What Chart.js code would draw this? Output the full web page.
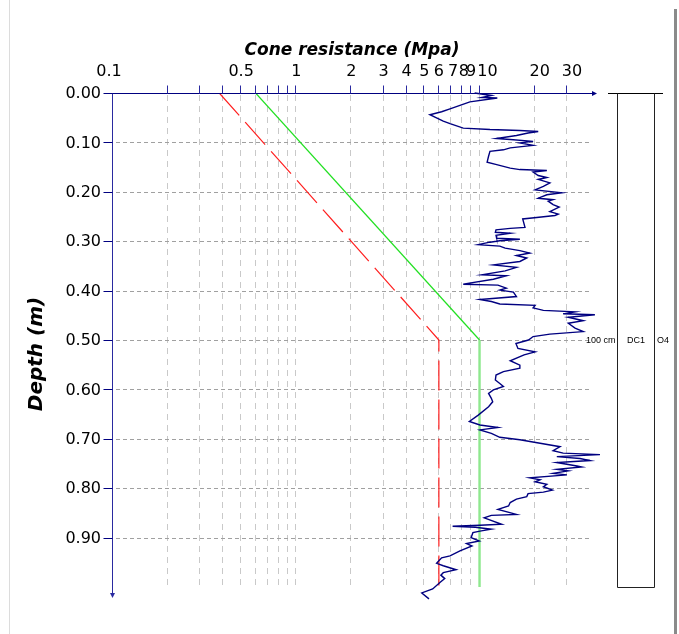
<!DOCTYPE html>
<html>
<head>
<meta charset="utf-8">
<script src="https://cdn.jsdelivr.net/npm/chart.js@4.4.1/dist/chart.umd.min.js"></script>
<style>
  html, body { margin: 0; padding: 0; background: #ffffff; }
  #wrap { width: 679px; height: 634px; }
</style>
</head>
<body>
<div id="wrap"><canvas id="c" width="679" height="634"></canvas></div>
<script>
// CPT sounding: depth (m) and cone resistance qc (MPa)
const depth = [
  0.000, 0.005, 0.009, 0.010, 0.018, 0.025, 0.032, 0.038, 0.044, 0.049,
  0.057, 0.062, 0.071, 0.074, 0.076, 0.078, 0.081, 0.086, 0.092, 0.094,
  0.098, 0.101, 0.106, 0.111, 0.115, 0.118, 0.128, 0.140, 0.145, 0.152,
  0.155, 0.157, 0.160, 0.167, 0.171, 0.175, 0.182, 0.189, 0.196, 0.202,
  0.206, 0.213, 0.216, 0.219, 0.226, 0.231, 0.240, 0.245, 0.248, 0.252,
  0.255, 0.272, 0.274, 0.277, 0.282, 0.284, 0.288, 0.294, 0.296, 0.299,
  0.302, 0.307, 0.310, 0.314, 0.319, 0.324, 0.329, 0.334, 0.341, 0.348,
  0.353, 0.360, 0.368, 0.370, 0.377, 0.387, 0.389, 0.395, 0.399, 0.403,
  0.412, 0.418, 0.422, 0.427, 0.430, 0.435, 0.440, 0.443, 0.447, 0.449,
  0.454, 0.461, 0.466, 0.476, 0.483, 0.488, 0.493, 0.500, 0.507, 0.517,
  0.524, 0.530, 0.542, 0.551, 0.557, 0.564, 0.571, 0.581, 0.588, 0.594,
  0.601, 0.608, 0.618, 0.625, 0.635, 0.652, 0.665, 0.672, 0.677, 0.682,
  0.689, 0.697, 0.702, 0.709, 0.716, 0.724, 0.729, 0.732, 0.736, 0.740,
  0.744, 0.748, 0.755, 0.757, 0.762, 0.765, 0.770, 0.773, 0.779, 0.783,
  0.787, 0.792, 0.797, 0.804, 0.808, 0.811, 0.817, 0.822, 0.829, 0.836,
  0.843, 0.853, 0.855, 0.860, 0.873, 0.875, 0.877, 0.879, 0.883, 0.887,
  0.890, 0.900, 0.907, 0.912, 0.917, 0.927, 0.937, 0.941, 0.952, 0.957,
  0.965, 0.971, 0.976, 0.983, 0.991, 1.004, 1.012, 1.024
];
const qc = [
  9.4, 11.6, 10.3, 12.5, 8.86, 7.82, 6.90, 6.21, 5.36, 5.71,
  6.34, 6.90, 8.15, 11.4, 16.6, 20.9, 18.4, 15.9, 12.4, 14.7,
  19.6, 16.6, 19.6, 14.7, 13.5, 11.4, 11.2, 11.0, 12.4, 14.7,
  16.6, 23.3, 19.6, 20.9, 23.3, 20.9, 24.2, 22.3, 20.1, 28.1,
  23.3, 20.9, 25.2, 23.7, 25.2, 27.2, 24.2, 26.9, 25.8, 20.5,
  17.2, 17.7, 14.7, 12.3, 12.2, 14.7, 12.3, 12.4, 16.6, 12.9,
  11.4, 9.84, 12.9, 13.8, 16.6, 18.8, 15.9, 18.1, 16.6, 11.9,
  15.9, 13.8, 10.3, 14.0, 11.9, 8.15, 12.6, 14.0, 12.9, 15.3,
  15.9, 10.05, 11.6, 12.9, 20.1, 19.6, 22.3, 33.2, 28.6, 42.6,
  30.5, 36.8, 30.5, 33.2, 36.8, 24.2, 19.6, 18.5, 15.8, 16.2,
  20.1, 17.5, 14.7, 16.6, 16.6, 13.5, 12.3, 12.2, 12.9, 13.5,
  11.9, 11.2, 11.6, 11.8, 11.2, 9.84, 8.8, 10.05, 12.6, 10.05,
  11.6, 12.9, 16.6, 21.4, 27.5, 25.2, 28.6, 45.4, 26.4, 35.3,
  40.0, 26.4, 34.0, 36.1, 26.4, 30.5, 25.2, 30.0, 18.8, 21.4,
  20.1, 23.3, 22.3, 25.0, 22.3, 18.4, 18.1, 15.9, 14.7, 14.4,
  12.6, 15.9, 11.6, 10.6, 13.2, 10.05, 7.13, 9.48, 11.6, 10.05,
  9.2, 9.0, 9.97, 8.5, 9.1, 7.82, 6.9, 6.21, 5.83, 6.34,
  7.45, 6.34, 6.15, 6.46, 6.08, 5.55, 4.84, 5.3
];

// Reference limit lines (depth m, qc MPa)
const redDepth = [0.0, 0.5, 1.0];
const redQc = [0.38, 6, 6];
const greenDepth = [0.0, 0.5, 1.0];
const greenQc = [0.6, 10, 10];

// Axis ticks
const qcGridValues = [0.2, 0.3, 0.4, 0.5, 0.6, 0.7, 0.8, 0.9, 1, 2, 3, 4, 5, 6, 7, 8, 9, 10, 20, 30];
const qcLabelValues = [0.1, 0.5, 1, 2, 3, 4, 5, 6, 7, 8, 9, 10, 20, 30];
const qcLabelText = ['0.1', '0.5', '1', '2', '3', '4', '5', '6', '7', '8', '9', '10', '20', '30'];
const qcLabelNudge = [-4, 0, 0, 0, 0, 0, 0, 0, 2, 2, 0, 8, 5, 5];
const depthTickValues = [0.0, 0.1, 0.2, 0.3, 0.4, 0.5, 0.6, 0.7, 0.8, 0.9];
const depthTickText = ['0.00', '0.10', '0.20', '0.30', '0.40', '0.50', '0.60', '0.70', '0.80', '0.90'];

// Soil column beside the profile
const layerTop = 0.0;
const layerBottom = 1.0;
const layerThickness = '100 cm';
const layerCode = 'DC1';
const layerTag = 'O4';

const NAVY = '#000080';

function seg(ctx, x1, y1, x2, y2) {
  ctx.beginPath(); ctx.moveTo(x1, y1); ctx.lineTo(x2, y2); ctx.stroke();
}

const framePlugin = {
  id: 'cptFrame',
  beforeDraw(chart) {
    const ctx = chart.ctx;
    ctx.save();
    ctx.fillStyle = '#ffffff';
    ctx.fillRect(0, 0, chart.width, chart.height);
    // page frame
    ctx.strokeStyle = '#dcdcdc'; ctx.lineWidth = 1;
    seg(ctx, 9.5, 0, 9.5, chart.height);
    ctx.strokeStyle = '#8a8a8a'; ctx.lineWidth = 3;
    seg(ctx, 675.5, 9, 675.5, chart.height);
    ctx.restore();
  },
  beforeDatasetsDraw(chart) {
    const { ctx, scales: { x, y } } = chart;
    ctx.save();
    ctx.lineWidth = 1;
    // vertical grid on log ticks
    ctx.strokeStyle = '#c9c9c9';
    ctx.setLineDash([6, 5]);
    const yTop = y.getPixelForValue(0), yBot = y.getPixelForValue(1.0);
    qcGridValues.forEach(v => {
      const px = Math.round(x.getPixelForValue(v)) - 0.5;
      seg(ctx, px, yTop + 2, px, yBot);
    });
    // horizontal grid on depth ticks
    ctx.strokeStyle = '#a0a0a0';
    ctx.setLineDash([4, 3]);
    depthTickValues.slice(1).forEach(d => {
      const py = Math.round(y.getPixelForValue(d)) + 0.5;
      seg(ctx, x.left + 3, py, x.right - 6, py);
    });
    ctx.restore();
  },
  afterDatasetsDraw(chart) {
    const { ctx, scales: { x, y } } = chart;
    ctx.save();
    const y0 = Math.round(y.getPixelForValue(0)) + 0.5;
    const x0 = Math.round(x.getPixelForValue(0.1)) - 0.5;

    // top axis (qc)
    ctx.strokeStyle = NAVY; ctx.lineWidth = 1;
    seg(ctx, x0 - 8, y0, x.right, y0);
    ctx.fillStyle = NAVY;
    ctx.beginPath();
    ctx.moveTo(x.right + 1, y0); ctx.lineTo(x.right - 4, y0 - 2.5); ctx.lineTo(x.right - 4, y0 + 2.5);
    ctx.closePath(); ctx.fill();
    ctx.strokeStyle = '#2a2aa0';
    qcGridValues.forEach(v => {
      const px = Math.round(x.getPixelForValue(v)) - 0.5;
      seg(ctx, px, y0 - 8, px, y0);
    });

    // left axis (depth)
    const yEnd = y.getPixelForValue(1.02);
    ctx.strokeStyle = '#2a2aa0';
    seg(ctx, x0, y0, x0, yEnd);
    ctx.fillStyle = '#2a2aa0';
    ctx.beginPath();
    ctx.moveTo(x0, yEnd + 1); ctx.lineTo(x0 - 2.5, yEnd - 4); ctx.lineTo(x0 + 2.5, yEnd - 4);
    ctx.closePath(); ctx.fill();
    ctx.strokeStyle = NAVY;
    depthTickValues.forEach(d => {
      const py = Math.round(y.getPixelForValue(d)) + 0.5;
      seg(ctx, x0 - 9, py, x0, py);
    });

    // tick labels
    ctx.fillStyle = '#000000';
    ctx.font = '16px "DejaVu Sans", sans-serif';
    ctx.textAlign = 'center'; ctx.textBaseline = 'middle';
    qcLabelValues.forEach((v, i) => {
      ctx.fillText(qcLabelText[i], x.getPixelForValue(v) + qcLabelNudge[i], 72);
    });
    ctx.textAlign = 'right';
    depthTickValues.forEach((d, i) => {
      ctx.fillText(depthTickText[i], 101, y.getPixelForValue(d) + 1);
    });

    // axis titles
    ctx.font = 'italic bold 17px "DejaVu Sans", sans-serif';
    ctx.textAlign = 'center'; ctx.textBaseline = 'alphabetic';
    ctx.fillText('Cone resistance (Mpa)', 352, 55);
    ctx.save();
    ctx.translate(42, 354);
    ctx.rotate(-Math.PI / 2);
    ctx.font = 'italic bold 20px "DejaVu Sans", sans-serif';
    ctx.fillText('Depth (m)', 0, 0);
    ctx.restore();

    // soil column
    const bTop = Math.round(y.getPixelForValue(layerTop)) + 0.5;
    const bBot = Math.round(y.getPixelForValue(layerBottom)) + 0.5;
    ctx.strokeStyle = '#000000'; ctx.lineWidth = 1;
    seg(ctx, 608, bTop, 663, bTop);
    ctx.strokeStyle = '#222222';
    seg(ctx, 617.5, bTop, 617.5, bBot);
    seg(ctx, 654.5, bTop, 654.5, bBot);
    seg(ctx, 617.5, bBot, 654.5, bBot);
    const yMid = y.getPixelForValue((layerTop + layerBottom) / 2) + 1;
    ctx.font = '9px "Liberation Sans", Arial, sans-serif';
    ctx.textAlign = 'left'; ctx.textBaseline = 'middle';
    ctx.fillStyle = '#000000';
    ctx.fillText(layerThickness, 586, yMid);
    ctx.fillText(layerCode, 627, yMid);
    ctx.fillText(layerTag, 657, yMid);
    ctx.restore();
  }
};

new Chart(document.getElementById('c'), {
  type: 'scatter',
  data: {
    datasets: [
      {
        label: 'qc',
        data: depth.map((d, i) => ({ x: qc[i], y: d })),
        showLine: true,
        borderColor: NAVY,
        borderWidth: 1.4,
        pointRadius: 0,
        tension: 0,
        clip: false,
        order: 0
      },
      {
        label: 'lower limit',
        data: redDepth.map((d, i) => ({ x: redQc[i], y: d })),
        showLine: true,
        borderColor: '#ff1e1e',
        borderWidth: 1.2,
        borderDash: [30, 9],
        pointRadius: 0,
        order: 2
      },
      {
        label: 'upper limit',
        data: greenDepth.map((d, i) => ({ x: greenQc[i], y: d })),
        showLine: true,
        borderColor: '#22e022',
        pointRadius: 0,
        segment: {
          borderColor: c => c.p0DataIndex === 0 ? '#22e022' : '#8ee88e',
          borderWidth: c => c.p0DataIndex === 0 ? 1.2 : 2.4
        },
        order: 1
      }
    ]
  },
  options: {
    responsive: false,
    animation: false,
    devicePixelRatio: 1,
    events: [],
    layout: { padding: { left: 113, right: 83, top: 93, bottom: 47 } },
    scales: {
      x: { type: 'logarithmic', position: 'top', min: 0.1, max: 43.2, display: false },
      y: { type: 'linear', reverse: true, min: 0, max: 1.0, display: false }
    },
    plugins: { legend: { display: false }, tooltip: { enabled: false } }
  },
  plugins: [framePlugin]
});
</script>
</body>
</html>
